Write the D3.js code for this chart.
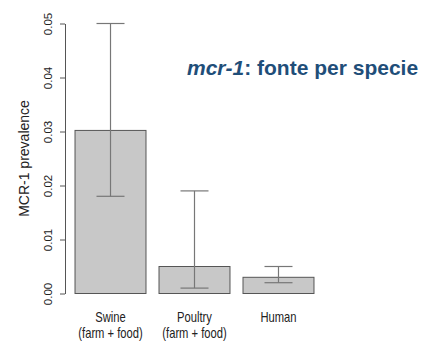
<!DOCTYPE html>
<html>
<head>
<meta charset="utf-8">
<script src="https://cdn.jsdelivr.net/npm/d3@7"></script>
<style>
  body { margin: 0; background: #fff; }
  svg text { font-family: "Liberation Sans", Arial, sans-serif; fill: #222; }
</style>
</head>
<body>
<div id="chart"></div>
<script>
var categories = ["Swine", "Poultry", "Human"];
var subLabels = ["(farm + food)", "(farm + food)", ""];
var prevalence = [0.0302, 0.005, 0.003];
var lowerCI = [0.018, 0.001, 0.002];
var upperCI = [0.05, 0.019, 0.005];
var yTicks = [0, 0.01, 0.02, 0.03, 0.04, 0.05];

var width = 421, height = 341;

var svg = d3.select("#chart")
  .append("svg")
  .attr("width", width)
  .attr("height", height);

var y = d3.scaleLinear().domain([0, 0.05]).range([293.5, 23.5]);

var x = d3.scaleBand()
  .domain(categories)
  .range([62, 327])
  .paddingInner(0.155)
  .paddingOuter(0.155);

// y axis, R-style: line only spans the ticks
var yAxis = svg.append("g")
  .attr("transform", "translate(65,0)")
  .call(d3.axisLeft(y).tickValues(yTicks).tickFormat(d3.format(".2f")).tickSize(5).tickSizeOuter(0));

yAxis.select(".domain").attr("stroke", "#555");
yAxis.selectAll(".tick line").attr("stroke", "#555");
yAxis.selectAll(".tick text")
  .attr("font-size", 11.5)
  .attr("fill", "#333")
  .attr("x", 0).attr("dy", 0)
  .attr("text-anchor", "middle")
  .attr("transform", "translate(-17,0) rotate(-90)")
  .attr("dominant-baseline", "central");

svg.append("text")
  .attr("transform", "translate(24," + y(0.025) + ") rotate(-90)")
  .attr("text-anchor", "middle")
  .attr("dominant-baseline", "central")
  .attr("font-size", 14)
  .attr("fill", "#333")
  .text("MCR-1 prevalence");

// bars
svg.selectAll("rect.bar")
  .data(categories)
  .enter()
  .append("rect")
  .attr("class", "bar")
  .attr("x", function(d) { return x(d); })
  .attr("y", function(d, i) { return y(prevalence[i]); })
  .attr("width", x.bandwidth())
  .attr("height", function(d, i) { return y(0) - y(prevalence[i]); })
  .attr("fill", "#c8c8c8")
  .attr("stroke", "#555")
  .attr("stroke-width", 1);

// error bars
var capHalf = 14;
var err = svg.selectAll("g.err")
  .data(categories)
  .enter()
  .append("g")
  .attr("class", "err")
  .attr("stroke", "#777")
  .attr("stroke-width", 1.2);

err.append("line")
  .attr("x1", function(d) { return x(d) + x.bandwidth() / 2; })
  .attr("x2", function(d) { return x(d) + x.bandwidth() / 2; })
  .attr("y1", function(d, i) { return y(lowerCI[i]); })
  .attr("y2", function(d, i) { return y(upperCI[i]); });

err.append("line")
  .attr("x1", function(d) { return x(d) + x.bandwidth() / 2 - capHalf; })
  .attr("x2", function(d) { return x(d) + x.bandwidth() / 2 + capHalf; })
  .attr("y1", function(d, i) { return y(upperCI[i]); })
  .attr("y2", function(d, i) { return y(upperCI[i]); });

err.append("line")
  .attr("x1", function(d) { return x(d) + x.bandwidth() / 2 - capHalf; })
  .attr("x2", function(d) { return x(d) + x.bandwidth() / 2 + capHalf; })
  .attr("y1", function(d, i) { return y(lowerCI[i]); })
  .attr("y2", function(d, i) { return y(lowerCI[i]); });

// category labels (narrow look via horizontal squeeze)
svg.selectAll("text.cat")
  .data(categories)
  .enter()
  .append("text")
  .attr("class", "cat")
  .attr("transform", function(d) { return "translate(" + (x(d) + x.bandwidth() / 2) + ",322) scale(0.8,1)"; })
  .attr("text-anchor", "middle")
  .attr("font-size", 14)
  .text(function(d) { return d; });

svg.selectAll("text.sub")
  .data(categories)
  .enter()
  .append("text")
  .attr("class", "sub")
  .attr("transform", function(d) { return "translate(" + (x(d) + x.bandwidth() / 2) + ",338) scale(0.8,1)"; })
  .attr("text-anchor", "middle")
  .attr("font-size", 14)
  .text(function(d, i) { return subLabels[i]; });

// title
var title = svg.append("text")
  .attr("x", 187)
  .attr("y", 75)
  .style("fill", "#1f4e79")
  .attr("font-size", 21)
  .attr("font-weight", "bold");
title.append("tspan").attr("font-style", "italic").text("mcr-1");
title.append("tspan").text(": fonte per specie");
</script>
</body>
</html>
